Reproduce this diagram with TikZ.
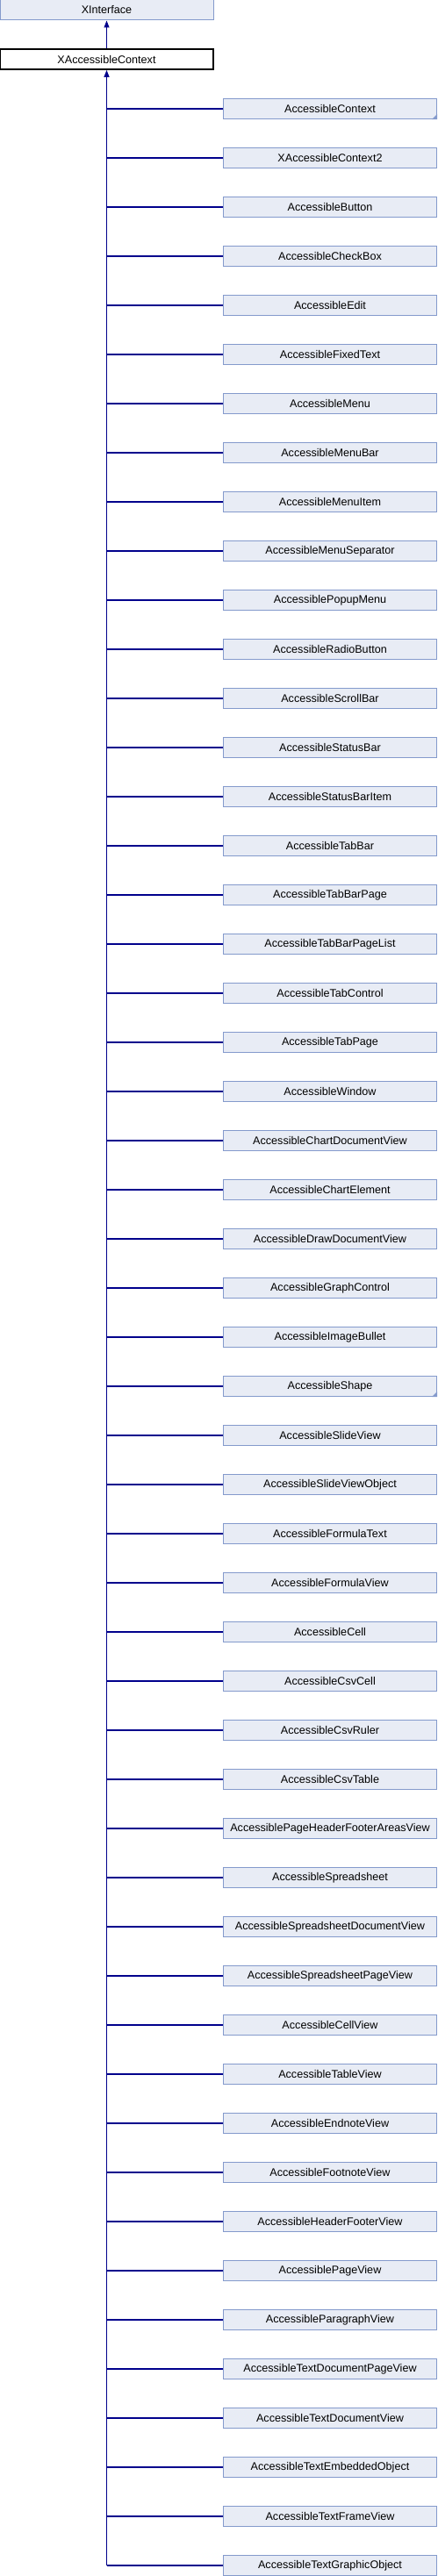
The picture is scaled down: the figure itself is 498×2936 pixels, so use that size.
\documentclass[tikz,border=0pt]{standalone}
\usepackage{fontspec}
\setmainfont{Liberation Sans}
\usepackage{tikz}
\usetikzlibrary{arrows.meta}

\definecolor{edgeblue}{RGB}{0,0,140}
\definecolor{boxfill}{RGB}{232,236,245}
\definecolor{boxline}{RGB}{132,154,204}

\tikzset{
  classbox/.style={draw=boxline, fill=boxfill, line width=1pt, minimum width=243pt,
    minimum height=23pt, inner sep=0pt, font=\fontsize{12.6}{14}\selectfont},
  thisbox/.style={classbox, draw=black, fill=white, line width=1.6pt},
  inherit/.style={draw=edgeblue, line width=1.1pt},
}

\begin{document}
\begin{tikzpicture}[x=1pt, y=-1pt, >={Triangle[width=6pt,length=8pt]}]

    %% Background
    \useasboundingbox (0,0) rectangle (498,2936);

    \node[classbox] (xint) at (121.5,11.5) {XInterface};
    \node[thisbox] (xac) at (121.5,67.5) {XAccessibleContext};

    \draw[inherit, ->, fill=edgeblue] (xac.north) to (xint.south);

    %% derived classes
    \foreach \name [count=\i] in {AccessibleContext, XAccessibleContext2,
      AccessibleButton, AccessibleCheckBox, AccessibleEdit, AccessibleFixedText,
      AccessibleMenu, AccessibleMenuBar, AccessibleMenuItem, AccessibleMenuSeparator,
      AccessiblePopupMenu, AccessibleRadioButton, AccessibleScrollBar,
      AccessibleStatusBar, AccessibleStatusBarItem, AccessibleTabBar,
      AccessibleTabBarPage, AccessibleTabBarPageList, AccessibleTabControl,
      AccessibleTabPage, AccessibleWindow, AccessibleChartDocumentView,
      AccessibleChartElement, AccessibleDrawDocumentView, AccessibleGraphControl,
      AccessibleImageBullet, AccessibleShape, AccessibleSlideView,
      AccessibleSlideViewObject, AccessibleFormulaText, AccessibleFormulaView,
      AccessibleCell, AccessibleCsvCell, AccessibleCsvRuler, AccessibleCsvTable,
      AccessiblePageHeaderFooterAreasView, AccessibleSpreadsheet,
      AccessibleSpreadsheetDocumentView, AccessibleSpreadsheetPageView,
      AccessibleCellView, AccessibleTableView, AccessibleEndnoteView,
      AccessibleFootnoteView, AccessibleHeaderFooterView, AccessiblePageView,
      AccessibleParagraphView, AccessibleTextDocumentPageView,
      AccessibleTextDocumentView, AccessibleTextEmbeddedObject,
      AccessibleTextFrameView, AccessibleTextGraphicObject}
    {
    \node[classbox] (c\i) at (376,{124+56*(\i-1)}) {\name};
    \draw[inherit] (xac.south |- c\i.west) to (c\i.west);
    }

    %% folded corners
    \foreach \i in {1,27}
    {
    \fill[boxline] (c\i.south east) -- ++(-6,0) -- ++(6,-6) -- cycle;
    }

    \draw[inherit, ->, fill=edgeblue] (xac.south |- c51.west) to (xac.south);

\end{tikzpicture}
\end{document}
